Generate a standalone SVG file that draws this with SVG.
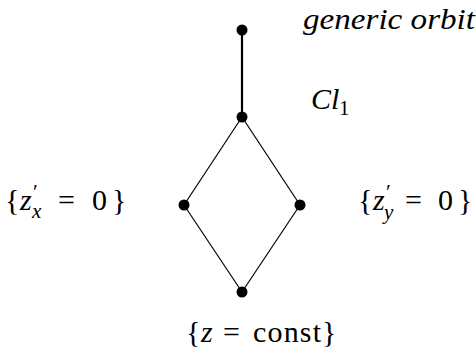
<svg xmlns="http://www.w3.org/2000/svg" width="476" height="358" viewBox="0 0 476 358">
<rect width="476" height="358" fill="#fff"/>
<g id="connectors" stroke="#000" fill="none">
<line x1="242" y1="30" x2="242" y2="117" stroke-width="2.2"/>
<line x1="242" y1="117" x2="184" y2="205" stroke-width="1.2"/>
<line x1="242" y1="117" x2="300" y2="205" stroke-width="1.2"/>
<line x1="184" y1="205" x2="242" y2="292" stroke-width="1.2"/>
<line x1="300" y1="205" x2="242" y2="292" stroke-width="1.2"/>
</g>
<g id="generic"><circle fill="#000" cx="242" cy="30" r="5.5"/><text x="303" y="29" style="font-family:'Liberation Serif',serif !important;font-size:30px;font-style:italic" textLength="172" lengthAdjust="spacingAndGlyphs">generic orbit</text></g>
<g id="cl1"><circle fill="#000" cx="242" cy="117" r="5.5"/><text x="311" y="109" style="font-family:'Liberation Serif',serif !important;font-size:30px;font-style:italic">Cl</text><text x="339" y="115" style="font-family:'Liberation Serif',serif !important;font-size:21px">1</text></g>
<g id="zx"><circle fill="#000" cx="184" cy="205" r="5.5"/><text x="5" y="210" style="font-family:'Liberation Serif',serif !important;font-size:30px">{</text><text x="20" y="210" style="font-family:'Liberation Serif',serif !important;font-size:30px;font-style:italic">z</text><text x="33" y="199" style="font-family:'Liberation Serif',serif !important;font-size:22px">′</text><text x="32" y="218" style="font-family:'Liberation Serif',serif !important;font-size:21px;font-style:italic">x</text><text x="58" y="210" style="font-family:'Liberation Serif',serif !important;font-size:30px">=</text><text x="92" y="210" style="font-family:'Liberation Serif',serif !important;font-size:30px">0</text><text x="112" y="210" style="font-family:'Liberation Serif',serif !important;font-size:30px">}</text></g>
<g id="zy"><circle fill="#000" cx="300" cy="205" r="5.5"/><text x="358" y="210" style="font-family:'Liberation Serif',serif !important;font-size:30px">{</text><text x="373" y="210" style="font-family:'Liberation Serif',serif !important;font-size:30px;font-style:italic">z</text><text x="386" y="199" style="font-family:'Liberation Serif',serif !important;font-size:22px">′</text><text x="384" y="219" style="font-family:'Liberation Serif',serif !important;font-size:21px;font-style:italic">y</text><text x="405" y="210" style="font-family:'Liberation Serif',serif !important;font-size:30px">=</text><text x="438" y="210" style="font-family:'Liberation Serif',serif !important;font-size:30px">0</text><text x="458" y="210" style="font-family:'Liberation Serif',serif !important;font-size:30px">}</text></g>
<g id="zc"><circle fill="#000" cx="242" cy="292" r="5.5"/><text x="186" y="342" style="font-family:'Liberation Serif',serif !important;font-size:30px">{</text><text x="201" y="342" style="font-family:'Liberation Serif',serif !important;font-size:30px;font-style:italic">z</text><text x="223" y="342" style="font-family:'Liberation Serif',serif !important;font-size:30px">=</text><text x="253" y="342" style="font-family:'Liberation Serif',serif !important;font-size:30px" textLength="68" lengthAdjust="spacing">const</text><text x="322" y="342" style="font-family:'Liberation Serif',serif !important;font-size:30px">}</text></g>
</svg>
